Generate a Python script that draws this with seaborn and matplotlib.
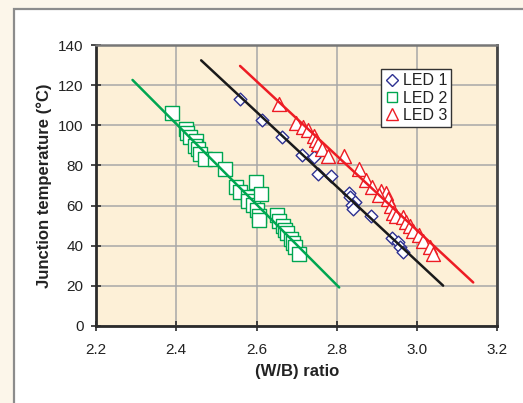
import numpy as np
import pandas as pd
import matplotlib
matplotlib.use("Agg")
import matplotlib.pyplot as plt
from matplotlib.patches import Rectangle
from matplotlib.ticker import FormatStrFormatter
from matplotlib.lines import Line2D
import seaborn as sns

# ---------------- data ----------------
led1_x = [2.559, 2.614, 2.663, 2.713, 2.743, 2.754, 2.786, 2.830, 2.833, 2.846,
          2.839, 2.841, 2.886, 2.938, 2.953, 2.957, 2.966]
led1_y = [113.0, 102.7, 94.1, 85.1, 84.1, 75.7, 74.8, 66.2, 64.2, 62.0,
          60.5, 58.4, 54.6, 44.0, 41.7, 39.4, 37.0]

led2_x = [2.390, 2.424, 2.428, 2.435, 2.450, 2.446, 2.455, 2.459, 2.471, 2.496,
          2.521, 2.550, 2.558, 2.578, 2.580, 2.590, 2.599, 2.610, 2.602, 2.605,
          2.607, 2.650, 2.657, 2.665, 2.671, 2.677, 2.685, 2.692, 2.697, 2.707]
led2_y = [106.4, 98.2, 96.0, 94.0, 92.0, 89.9, 88.0, 85.9, 83.1, 83.3,
          78.4, 69.4, 66.9, 64.4, 62.4, 60.4, 71.5, 65.7, 57.6, 54.8,
          52.8, 55.5, 52.4, 49.8, 47.8, 46.1, 43.4, 41.1, 39.1, 35.8]

led3_x = [2.657, 2.698, 2.717, 2.729, 2.744, 2.748, 2.754, 2.762, 2.779, 2.819,
          2.855, 2.874, 2.889, 2.910, 2.922, 2.906, 2.927, 2.934, 2.941, 2.948,
          2.964, 2.972, 2.982, 2.991, 3.006, 3.016, 3.032, 3.039]
led3_y = [110.5, 101.4, 99.1, 97.7, 94.7, 92.7, 90.7, 88.4, 84.7, 84.7,
          78.1, 72.7, 69.4, 67.4, 66.4, 65.3, 63.1, 59.8, 56.4, 54.8,
          54.1, 51.8, 49.8, 47.4, 45.1, 42.5, 39.1, 35.8]

# linear fit lines (end points)
fit1_x = [2.462, 3.065]
fit1_y = [132.5, 20.0]
fit2_x = [2.291, 2.806]
fit2_y = [122.7, 19.1]
fit3_x = [2.559, 3.140]
fit3_y = [129.7, 21.6]

series_names = ["LED 1", "LED 2", "LED 3"]
x_ticks = [2.2, 2.4, 2.6, 2.8, 3.0, 3.2]
y_ticks = [0, 20, 40, 60, 80, 100, 120, 140]
x_label = "(W/B) ratio"
y_label = "Junction temperature (°C)"

# ---------------- styling ----------------
sns.set_style("white")
plt.rcParams["font.family"] = ["Liberation Sans", "DejaVu Sans"]

W, H = 523, 403
fig = plt.figure(figsize=(W / 100, H / 100), dpi=100)
fig.patch.set_facecolor("#fcf6ea")

# white inner panel with grey border
panel = Rectangle((14 / W, -0.2), 1.2, (1 - 9 / H) + 0.2,
                  transform=fig.transFigure, facecolor="white",
                  edgecolor="#8c8c8c", linewidth=1.6, zorder=-10)
fig.add_artist(panel)

ax = fig.add_axes([96 / W, 1 - 325.7 / H, (497.3 - 96) / W, (325.7 - 45.3) / H])
ax.set_zorder(5)
ax.set_facecolor("#fdf0d7")

colors = ["#2e3192", "#00a651", "#ed1c24"]
line_colors = ["#1a1a1a", "#00a651", "#ed1c24"]
markers = ["D", "s", "^"]
msizes = [42, 90, 100]

pts = [(led1_x, led1_y), (led2_x, led2_y), (led3_x, led3_y)]
fits = [(fit1_x, fit1_y), (fit2_x, fit2_y), (fit3_x, fit3_y)]

for (xs, ys), name, c, m, s in zip(pts, series_names, colors, markers, msizes):
    df = pd.DataFrame({"x": xs, "y": ys})
    sns.scatterplot(data=df, x="x", y="y", ax=ax, marker=m, s=s,
                    facecolor="white", edgecolor=c, linewidth=1.0,
                    zorder=3, legend=False)

for (xs, ys), lc in zip(fits, line_colors):
    df = pd.DataFrame({"x": xs, "y": ys})
    sns.lineplot(data=df, x="x", y="y", ax=ax, color=lc, linewidth=1.8,
                 zorder=4, legend=False, estimator=None, sort=False)

ax.set_xlim(2.2, 3.2)
ax.set_ylim(0, 140)
ax.set_xticks(x_ticks)
ax.set_yticks(y_ticks)
ax.xaxis.set_major_formatter(FormatStrFormatter("%.1f"))
ax.grid(True, color="#a8a8a8", linewidth=1.1, zorder=1)
ax.set_axisbelow(True)

for side in ["left", "bottom"]:
    ax.spines[side].set_color("#2b2b2b")
    ax.spines[side].set_linewidth(2.0)
ax.spines["right"].set_color("#454545")
ax.spines["right"].set_linewidth(2.0)
ax.spines["top"].set_color("#777777")
ax.spines["top"].set_linewidth(1.8)

ax.tick_params(axis="both", which="major", direction="inout", length=7,
               width=1.2, color="#2b2b2b", labelsize=11, labelcolor="#222222",
               left=True, bottom=True)
ax.tick_params(axis="x", pad=9)
ax.tick_params(axis="y", pad=5.5)

ax.set_xlabel(x_label, fontsize=12, fontweight="bold", color="#222222", labelpad=5)
ax.set_ylabel(y_label, fontsize=12, fontweight="bold", color="#222222", labelpad=4.5)

handles = [Line2D([], [], linestyle="none", marker=m, markersize=ms,
                  markerfacecolor="white", markeredgecolor=c, markeredgewidth=1.0)
           for m, c, ms in zip(markers, colors, [6, 7, 9])]
leg = ax.legend(handles, series_names, loc="upper left",
                bbox_to_anchor=(0.711, 0.915), borderaxespad=0,
                fontsize=11.5, frameon=True, fancybox=False, framealpha=1,
                edgecolor="#333333", handlelength=0.8, handletextpad=0.3,
                borderpad=0.25, labelspacing=0.15)
leg.get_frame().set_linewidth(1.0)
for t in leg.get_texts():
    t.set_color("#222222")

fig.savefig("out.png", dpi=100, facecolor=fig.get_facecolor())
